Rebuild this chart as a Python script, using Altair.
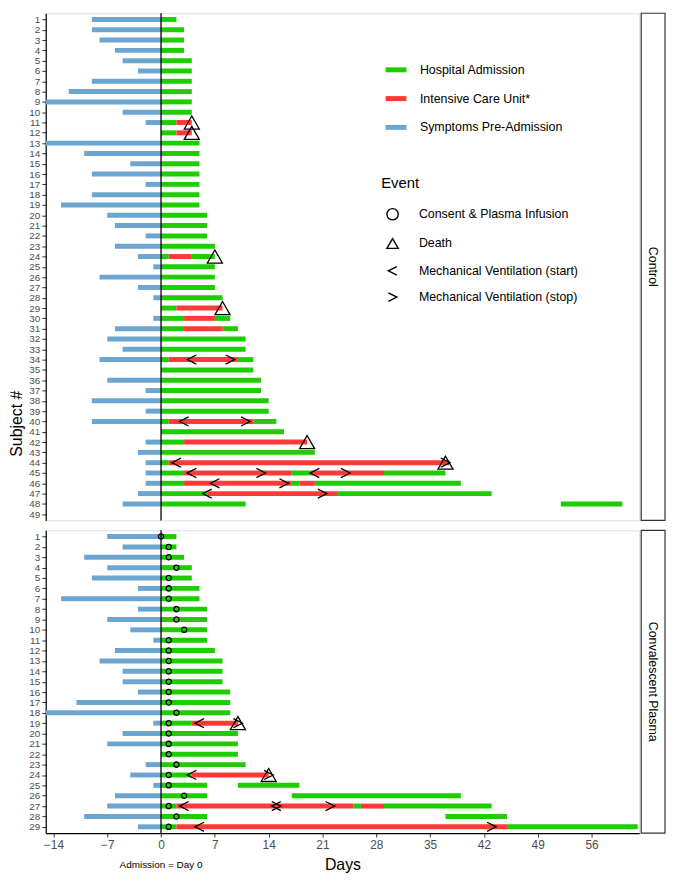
import altair as alt
import pandas as pd

# ---------------- data ----------------
STATUS = ["Hospital Admission", "Intensive Care Unit*", "Symptoms Pre-Admission"]
STATUS_COLORS = ["#1ecd00", "#ff3838", "#6ca6d0"]
EVENTS = ["Consent & Plasma Infusion", "Death",
          "Mechanical Ventilation (start)", "Mechanical Ventilation (stop)"]
LT_PATH = "M 0.75 -0.75 L -0.75 0 L 0.75 0.75"
GT_PATH = "M -0.75 -0.75 L 0.75 0 L -0.75 0.75"
EVENT_SHAPES = ["circle", "triangle-up", LT_PATH, GT_PATH]
EVENT_SIZES = [28, 230, 150, 150]
X_TICKS = [-14, -7, 0, 7, 14, 21, 28, 35, 42, 49, 56]
GROUPS = ["Control", "Convalescent Plasma"]
N_SUBJECTS = [49, 29]

# Control arm: (subject, start day) for symptoms; (subject, start, end) for stays
ctrl_symptoms = [(1, -9), (2, -9), (3, -8), (4, -6), (5, -5), (6, -3), (7, -9), (8, -12),
                 (9, -15), (10, -5), (11, -2), (13, -15), (14, -10), (15, -4), (16, -9),
                 (17, -2), (18, -9), (19, -13), (20, -7), (21, -6), (22, -2), (23, -6),
                 (24, -3), (25, -1), (26, -8), (27, -3), (28, -1), (30, -1), (31, -6),
                 (32, -7), (33, -5), (34, -8), (36, -7), (37, -2), (38, -9), (39, -2),
                 (40, -9), (42, -2), (43, -3), (44, -2), (45, -2), (46, -2), (47, -3), (48, -5)]
ctrl_hospital = [(1, 0, 2), (2, 0, 3), (3, 0, 3), (4, 0, 3), (5, 0, 4), (6, 0, 4), (7, 0, 4),
                 (8, 0, 4), (9, 0, 4), (10, 0, 4), (11, 0, 2), (12, 0, 2), (13, 0, 5), (14, 0, 5),
                 (15, 0, 5), (16, 0, 5), (17, 0, 5), (18, 0, 5), (19, 0, 5), (20, 0, 6), (21, 0, 6),
                 (22, 0, 6), (23, 0, 7), (24, 0, 1), (24, 4, 7), (25, 0, 7), (26, 0, 7), (27, 0, 7),
                 (28, 0, 8), (29, 0, 2), (30, 0, 3), (30, 7, 9), (31, 0, 3), (31, 8, 10),
                 (32, 0, 11), (33, 0, 11), (34, 0, 1), (34, 10, 12), (35, 0, 12), (36, 0, 13),
                 (37, 0, 13), (38, 0, 14), (39, 0, 14), (40, 0, 1), (40, 12, 15), (41, 0, 16),
                 (42, 0, 3), (43, 0, 20), (44, 0, 1), (45, 0, 3), (45, 17, 19.5), (45, 29, 37),
                 (46, 0, 3), (46, 17, 18), (46, 20, 39), (47, 0, 6), (47, 23, 43), (48, 0, 11),
                 (48, 52, 60)]
ctrl_icu = [(11, 2, 4), (12, 2, 4), (24, 1, 4), (29, 2, 8), (30, 3, 7), (31, 3, 8), (34, 1, 10),
            (40, 1, 12), (42, 3, 19), (44, 1, 37.5), (45, 3, 17), (45, 19.5, 29), (46, 3, 17),
            (46, 18, 20), (47, 6, 23)]
ctrl_infusion = []
ctrl_death = [(11, 4), (12, 4), (24, 7), (29, 8), (42, 19), (44, 37)]
ctrl_vent_start = [(34, 4), (40, 3), (44, 2), (45, 4), (45, 20), (46, 7), (47, 6)]
ctrl_vent_stop = [(34, 9), (40, 11), (44, 37), (45, 13), (45, 24), (46, 16), (47, 21)]

# Convalescent plasma arm
cp_symptoms = [(1, -7), (2, -5), (3, -10), (4, -7), (5, -9), (6, -3), (7, -13), (8, -3), (9, -7),
               (10, -4), (11, -1), (12, -6), (13, -8), (14, -5), (15, -5), (16, -3), (17, -11),
               (18, -15), (19, -1), (20, -5), (21, -7), (23, -2), (24, -4), (25, -1), (26, -6),
               (27, -7), (28, -10), (29, -3)]
cp_hospital = [(1, 0, 2), (2, 0, 2), (3, 0, 3), (4, 0, 4), (5, 0, 4), (6, 0, 5), (7, 0, 5),
               (8, 0, 6), (9, 0, 6), (10, 0, 6), (11, 0, 6), (12, 0, 7), (13, 0, 8), (14, 0, 8),
               (15, 0, 8), (16, 0, 9), (17, 0, 9), (18, 0, 9), (19, 0, 4), (20, 0, 10),
               (21, 0, 10), (22, 0, 10), (23, 0, 11), (24, 0, 4), (25, 0, 6), (25, 10, 18),
               (26, 0, 6), (26, 17, 39), (27, 0, 2), (27, 25, 26), (27, 29, 43), (28, 0, 6),
               (28, 37, 45), (29, 0, 2), (29, 45, 62)]
cp_icu = [(19, 4, 10), (24, 4, 14), (27, 2, 25), (27, 26, 29), (29, 2, 45)]
cp_infusion = [(1, 0), (2, 1), (3, 1), (4, 2), (5, 1), (6, 1), (7, 1), (8, 2), (9, 2), (10, 3),
               (11, 1), (12, 1), (13, 1), (14, 1), (15, 1), (16, 1), (17, 1), (18, 2), (19, 1),
               (20, 1), (21, 1), (22, 1), (23, 2), (24, 1), (25, 1), (26, 3), (27, 1), (28, 2),
               (29, 1)]
cp_death = [(19, 10), (24, 14)]
cp_vent_start = [(19, 5), (24, 4), (27, 3), (27, 15), (29, 5)]
cp_vent_stop = [(19, 10), (24, 14), (27, 15), (27, 22), (29, 43)]


def seg_frame(symptoms, hospital, icu):
    rows = [{"subject": s, "start": a, "end": 0, "status": STATUS[2]} for s, a in symptoms]
    rows += [{"subject": s, "start": a, "end": b, "status": STATUS[0]} for s, a, b in hospital]
    rows += [{"subject": s, "start": a, "end": b, "status": STATUS[1]} for s, a, b in icu]
    return pd.DataFrame(rows)


def event_frame(infusion, death, vstart, vstop):
    rows = []
    for lst, name in zip([infusion, death, vstart, vstop], EVENTS):
        rows += [{"subject": s, "day": d, "event": name} for s, d in lst]
    return pd.DataFrame(rows, columns=["subject", "day", "event"])


# ---------------- layout ----------------
W = 598
H_TOP = 511
H_BOT = 305
GAP = 10
FONT = "Liberation Sans"

xscale = alt.Scale(domain=[-15, 62.2], nice=False, zero=False)


def panel(segs, evs, n, h, strip, top):
    yscale = alt.Scale(type="point", domain=list(range(1, n + 1)), padding=0.6)
    common_y = dict(labelFontSize=10, labelColor="#4d4d4d", tickSize=4, tickColor="#333333",
                    domainColor="black", domainWidth=1.2, labelPadding=2, grid=False,
                    labelFont=FONT)
    if top:
        yaxis = alt.Axis(title="Subject #", titleX=-21, titleY=(H_TOP + GAP + H_BOT) / 2,
                         titleAngle=-90, titleBaseline="bottom", titleAlign="center",
                         titleFontSize=16, titleFontWeight="normal", titleColor="black",
                         titleFont=FONT, **common_y)
        xaxis = None
        color_legend = alt.Legend(title=None, orient="none", legendX=340, legendY=44,
                                  symbolType="stroke", symbolStrokeWidth=5, symbolSize=441,
                                  labelFontSize=12.5, labelColor="black", labelFont=FONT,
                                  labelOffset=11, rowPadding=6, padding=0, labelLimit=300)
        shape_legend = alt.Legend(title="Event", orient="none", legendX=338, legendY=164,
                                  titleFontSize=15, titleFontWeight="normal", titleColor="black",
                                  titleFont=FONT, titlePadding=17, symbolSize=130,
                                  symbolStrokeWidth=1.4, symbolStrokeColor="black",
                                  symbolFillColor="transparent", symbolOffset=5,
                                  labelFontSize=12.5, labelColor="black", labelFont=FONT,
                                  labelOffset=20, rowPadding=11.5, padding=0, labelLimit=300)
    else:
        yaxis = alt.Axis(title=None, **common_y)
        xaxis = alt.Axis(values=X_TICKS, title="Days", titleFontSize=16, titleFontWeight="normal",
                         titleColor="black", titleFont=FONT, titlePadding=6,
                         labelFontSize=12, labelColor="#4d4d4d", labelFont=FONT, tickSize=4,
                         tickColor="#333333", domainColor="black", domainWidth=1.2,
                         labelPadding=3, grid=False)
        color_legend = None
        shape_legend = None

    def X(field):
        return alt.X(field, scale=xscale, axis=xaxis)

    def Y(field):
        return alt.Y(field, scale=yscale, axis=yaxis)

    bars = alt.Chart(segs).mark_rule(strokeWidth=5, strokeCap="butt").encode(
        x=X("start:Q"),
        x2="end:Q",
        y=Y("subject:O"),
        color=alt.Color("status:N", scale=alt.Scale(domain=STATUS, range=STATUS_COLORS),
                        legend=color_legend),
    )
    zero = alt.Chart(pd.DataFrame({"z": [0]})).mark_rule(color="black", strokeWidth=1.3).encode(
        x=X("z:Q"), y=alt.value(0), y2=alt.value(h)
    )
    layers = [bars, zero]
    shape_scale = alt.Scale(domain=EVENTS, range=EVENT_SHAPES)
    groups = [(EVENTS[:1], EVENT_SIZES[0]), (EVENTS[1:2], EVENT_SIZES[1]),
              (EVENTS[2:], EVENT_SIZES[2])]
    for names, sz in groups:
        sub = evs[evs["event"].isin(names)]
        if len(sub) == 0:
            sub = pd.DataFrame({"subject": [], "day": [], "event": []})
        layers.append(
            alt.Chart(sub).mark_point(filled=False, color="black", strokeWidth=1.3,
                                      opacity=1, size=sz).encode(
                x=X("day:Q"),
                y=Y("subject:O"),
                shape=alt.Shape("event:N", scale=shape_scale, legend=shape_legend),
            )
        )
    sdf = pd.DataFrame({"label": [strip]})
    strip_box = alt.Chart(sdf).mark_rect(fill="white", stroke="#333333", strokeWidth=1.2).encode(
        x=alt.value(W + 2), x2=alt.value(W + 26), y=alt.value(0), y2=alt.value(h)
    )
    strip_text = alt.Chart(sdf).mark_text(angle=90, fontSize=12.5, font=FONT,
                                          color="black").encode(
        x=alt.value(W + 14), y=alt.value(h / 2), text="label:N"
    )
    layers += [strip_box, strip_text]
    if not top:
        note = alt.Chart(pd.DataFrame({"z": [0], "t": ["Admission = Day 0"]})).mark_text(
            fontSize=10, font=FONT, color="black", baseline="middle").encode(
            x=X("z:Q"), y=alt.value(h + 32), text="t:N"
        )
        layers.append(note)
    return alt.layer(*layers).properties(width=W, height=h)


top_chart = panel(seg_frame(ctrl_symptoms, ctrl_hospital, ctrl_icu),
                  event_frame(ctrl_infusion, ctrl_death, ctrl_vent_start, ctrl_vent_stop),
                  N_SUBJECTS[0], H_TOP, GROUPS[0], True)
bot_chart = panel(seg_frame(cp_symptoms, cp_hospital, cp_icu),
                  event_frame(cp_infusion, cp_death, cp_vent_start, cp_vent_stop),
                  N_SUBJECTS[1], H_BOT, GROUPS[1], False)

chart = alt.vconcat(top_chart, bot_chart, spacing=GAP, bounds="flush").resolve_scale(
    color="independent", shape="independent"
).resolve_legend(color="independent", shape="independent").configure_view(
    strokeWidth=0, strokeOpacity=0
).configure_axis(grid=False).configure(font=FONT).properties(
    padding={"left": 0, "top": 0, "right": 0, "bottom": 0}
)

chart.save("out.html", embed_options={"renderer": "svg", "actions": False})
